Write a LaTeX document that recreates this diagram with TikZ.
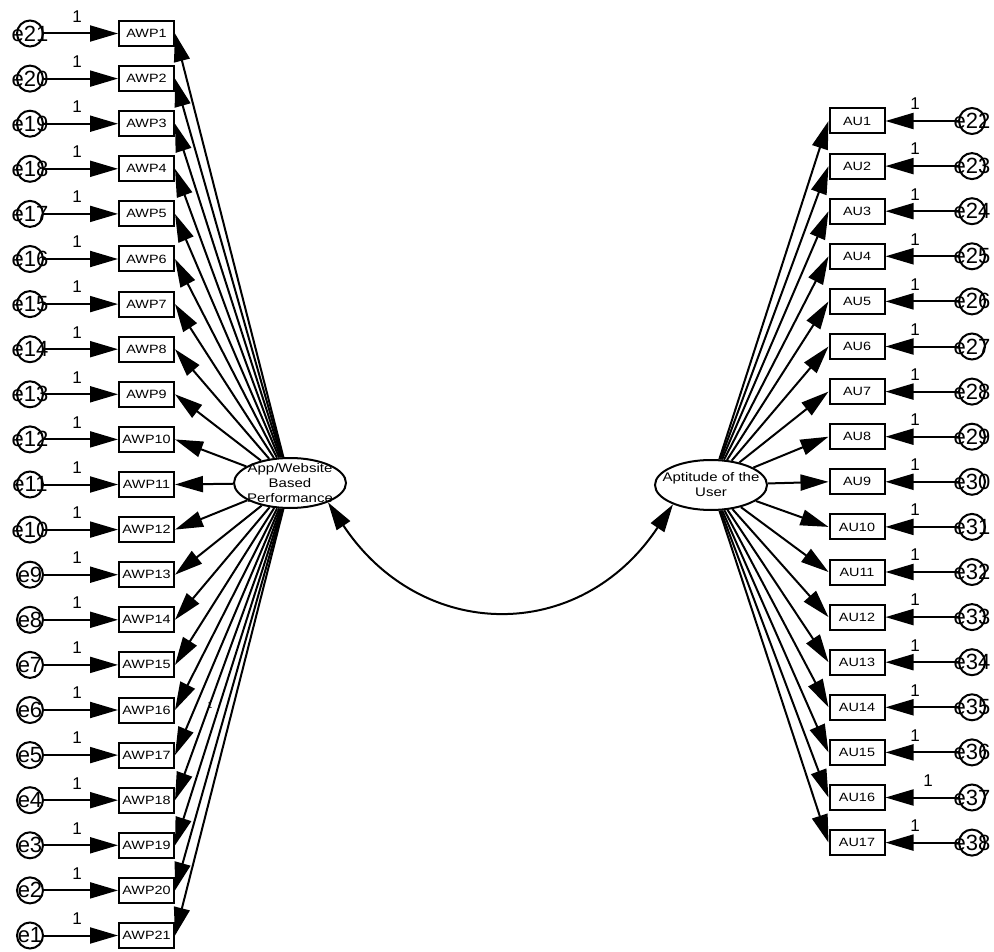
\documentclass[tikz,border=0pt]{standalone}
\usepackage{fontspec}
\setmainfont{Liberation Sans}
\newfontfamily\dfont[FakeStretch=1.2]{Liberation Sans}
\usetikzlibrary{arrows.meta,shapes.geometric}
\begin{document}
\begin{tikzpicture}[x=1pt,y=-1pt,
 obs/.style={draw,line width=2pt,fill=white,minimum width=55pt,minimum height=25pt,inner sep=0pt,font=\dfont\fontsize{12}{14}\selectfont},
 errc/.style={draw,circle,line width=2pt,minimum size=26pt,inner sep=0pt},
 etext/.style={font=\fontsize{22}{22}\selectfont,inner sep=0pt},
 lat/.style={draw,ellipse,line width=2pt,minimum width=112pt,minimum height=50pt,inner sep=0pt,fill=white},
 lattext/.style={align=center,font=\dfont\fontsize{12.5}{15}\selectfont,inner sep=0pt},
 arr/.style={line width=2pt,-{Triangle[length=28pt,width=16pt]}},
 dblarr/.style={line width=2pt,{Triangle[length=28pt,width=16pt]}-{Triangle[length=28pt,width=16pt]}},
 one/.style={font=\fontsize{17}{17}\selectfont,inner sep=0pt}]
\useasboundingbox (0,0) rectangle (994,952);
% latent variables
\node[lat,label={[lattext]center:App/Website\\Based\\Performance}] (F1) at (290,483) {};
\node[lat,label={[lattext]center:Aptitude of the\\User}] (F2) at (711,485) {};
% left indicators
\foreach \i in {1,...,21}{
  \pgfmathsetmacro\yy{33.5+(\i-1)*45.1}
  \pgfmathtruncatemacro\e{22-\i}
  \node[obs] (AWP\i) at (146.5,\yy) {AWP\i};
  \node[errc,label={[etext]center:e\e}] (e\e) at (30,\yy) {};
  \draw[arr] (e\e) -- (AWP\i);
  \node[one] at (77,\yy-17) {1};
}
% right indicators
\foreach \j in {1,...,17}{
  \pgfmathsetmacro\yy{121+(\j-1)*45.1}
  \pgfmathtruncatemacro\e{21+\j}
  \node[obs] (AU\j) at (857,\yy) {AU\j};
  \node[errc,label={[etext]center:e\e}] (e\e) at (972,\yy) {};
  \draw[arr] (e\e) -- (AU\j);
}
\foreach \j in {1,...,15,17}{
  \pgfmathsetmacro\yy{121+(\j-1)*45.1}
  \node[one] at (915,\yy-17) {1};
}
\node[one] at (928,121+15*45.1-17) {1};
% loadings
\foreach \i in {1,...,21}{\draw[arr] (F1) -- (AWP\i.east);}
\foreach \j in {1,...,17}{\draw[arr] (F2) -- (AU\j.west);}
\node[font=\fontsize{9}{9}\selectfont,inner sep=0pt] (w1) at (210,705) {1};
% covariance
\draw[dblarr] (F1.-27) .. controls +(93,140) and +(-93,140) .. (F2.-153);
\end{tikzpicture}
\end{document}
